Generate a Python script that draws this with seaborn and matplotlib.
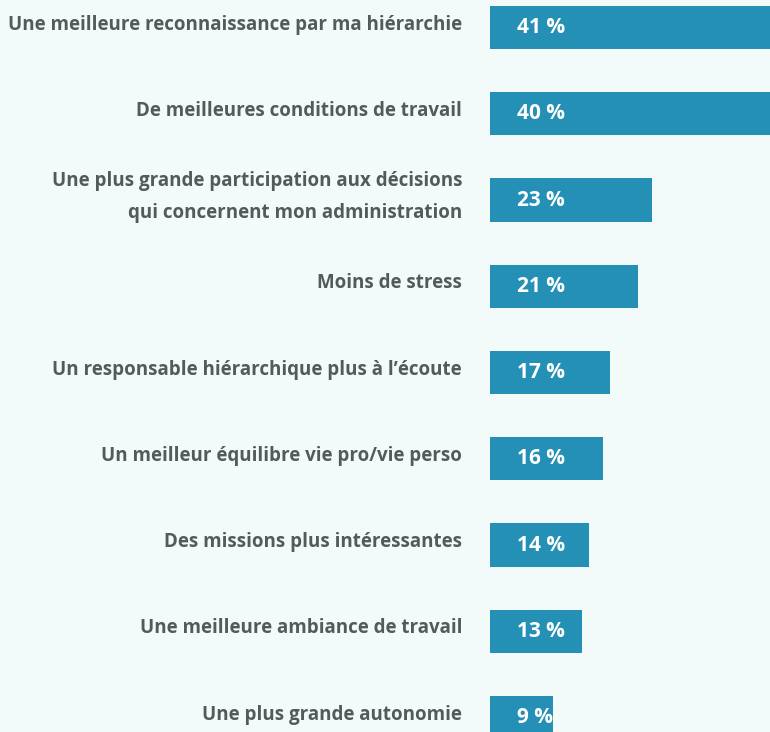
import matplotlib
matplotlib.use("Agg")
import matplotlib.pyplot as plt
import matplotlib.transforms as mtransforms
import seaborn as sns
import pandas as pd

# Data
categories = [
    "Une meilleure reconnaissance par ma hiérarchie",
    "De meilleures conditions de travail",
    "Une plus grande participation aux décisions\nqui concernent mon administration",
    "Moins de stress",
    "Un responsable hiérarchique plus à l’écoute",
    "Un meilleur équilibre vie pro/vie perso",
    "Des missions plus intéressantes",
    "Une meilleure ambiance de travail",
    "Une plus grande autonomie",
]
values = [41, 40, 23, 21, 17, 16, 14, 13, 9]

df = pd.DataFrame({"label": categories, "value": values})

bg = "#f2fbfa"
bar_color = "#2490b5"
text_color = "#55595c"

sns.set_theme(style="white")
plt.rcParams["font.family"] = ["Open Sans", "DejaVu Sans"]

fig = plt.figure(figsize=(7.7, 7.32), dpi=100, facecolor=bg)
ax = fig.add_axes([490 / 770, 0, 280 / 770, 1])
ax.set_facecolor(bg)

sns.barplot(data=df, x="value", y="label", color=bar_color, saturation=1,
            width=0.5, orient="h", ax=ax, edgecolor="none")

ax.set_xlim(0, 39.7)
ax.set_ylim(8.168, -0.319)
ax.set_xlabel("")
ax.set_ylabel("")
ax.set_xticks([])
ax.set_yticks([])
for s in ax.spines.values():
    s.set_visible(False)

# category labels to the left of the bars, slightly above bar centre
lab_tr = mtransforms.blended_transform_factory(ax.transAxes, ax.transData) + \
    mtransforms.ScaledTranslation(0, 3 / 100, fig.dpi_scale_trans)
for i, (lab, v) in enumerate(zip(categories, values)):
    ax.text(-28 / 280, i, lab, transform=lab_tr, ha="right", va="center",
            multialignment="right", fontsize=13.5, fontweight="bold",
            color=text_color, linespacing=1.75, clip_on=False)

# value labels inside bars
val_tr = ax.transData + mtransforms.ScaledTranslation(27 / 100, 0, fig.dpi_scale_trans)
for i, v in enumerate(values):
    ax.text(0, i, f"{v} %", transform=val_tr, ha="left", va="center",
            fontsize=15, fontweight="bold", color="white")

fig.savefig("out.png", dpi=100, facecolor=bg)
